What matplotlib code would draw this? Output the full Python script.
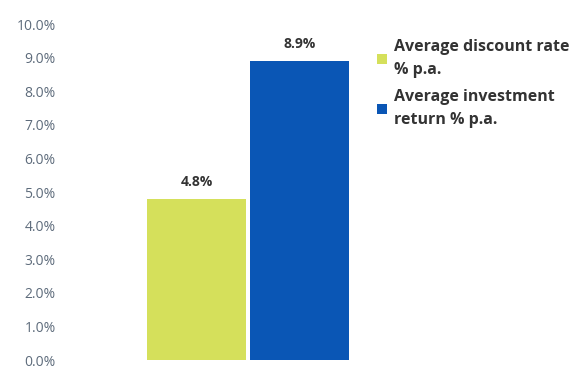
import numpy as np
import matplotlib.pyplot as plt

series = ['Average discount rate\n% p.a.', 'Average investment\nreturn % p.a.']
values = [4.8, 8.9]
colors = ['#d5e05b', '#0a56b5']
labels = ['4.8%', '8.9%']
yticks = np.arange(0, 11, 1)

plt.rcParams['font.family'] = ['Open Sans', 'DejaVu Sans']

fig = plt.figure(figsize=(5.81, 3.70), dpi=100)
ax = fig.add_axes([64/581, 10/370, 368/581, 336/370])

width = 0.27
xpos = [-width/2 - 0.005, width/2 + 0.005]
for x, v, c, s, lab in zip(xpos, values, colors, series, labels):
    ax.bar(x, v, width=width, color=c, label=s)
    ax.text(x, v + 0.3, lab, ha='center', va='bottom', fontsize=10,
            fontweight='bold', color='#333333')

ax.set_xlim(-0.5, 0.5)
ax.set_ylim(0, 10)
ax.set_yticks(yticks)
ax.set_yticklabels(['%.1f%%' % t for t in yticks], fontsize=10, color='#5d6b7b')
ax.set_xticks([])
ax.tick_params(axis='y', length=0, pad=6)
for sp in ax.spines.values():
    sp.set_visible(False)

leg = ax.legend(loc='upper left', bbox_to_anchor=(363/581, 345/370),
                bbox_transform=fig.transFigure, frameon=False,
                handlelength=0.6, handleheight=0.6, handletextpad=0.45,
                labelspacing=0.7, labelcolor='#333333',
                prop={'weight': 'bold', 'size': 11.5})
for t in leg.get_texts():
    t.set_linespacing(1.55)

fig.savefig('out.png', dpi=100)
